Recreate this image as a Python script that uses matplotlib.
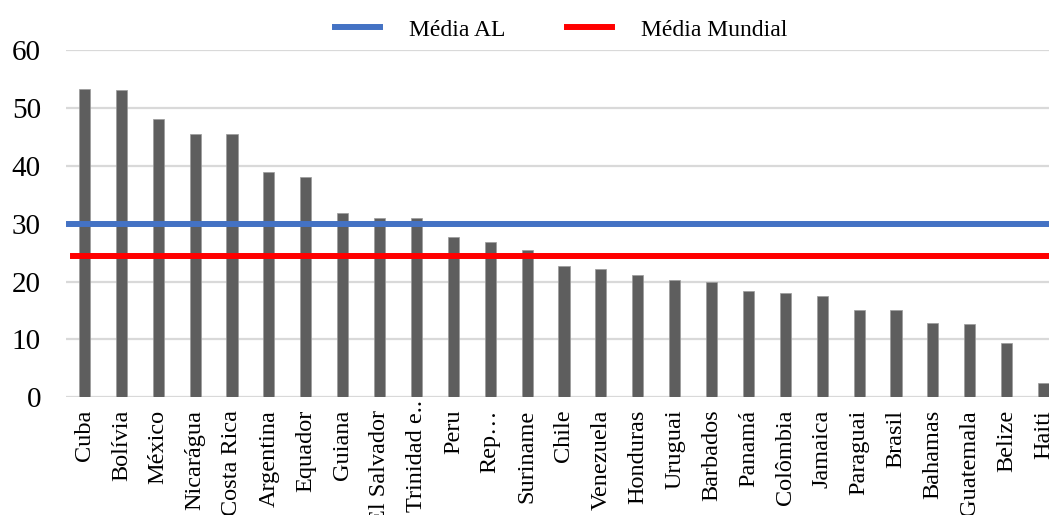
import matplotlib
matplotlib.use("Agg")
import matplotlib.pyplot as plt
import matplotlib.transforms as mtransforms
from matplotlib.lines import Line2D

plt.rcParams['font.family'] = ['Liberation Serif', 'DejaVu Serif']

paises = ["Cuba", "Bolívia", "México", "Nicarágua", "Costa Rica", "Argentina",
          "Equador", "Guiana", "El Salvador", "Trinidad e..", "Peru", "Rep…",
          "Suriname", "Chile", "Venezuela", "Honduras", "Uruguai", "Barbados",
          "Panamá", "Colômbia", "Jamaica", "Paraguai", "Brasil", "Bahamas",
          "Guatemala", "Belize", "Haiti"]
valores = [53.2, 53.0, 48.1, 45.5, 45.5, 38.9, 38.0, 31.9, 30.9, 30.9, 27.7, 26.8,
           25.4, 22.6, 22.2, 21.1, 20.2, 20.0, 18.3, 18.1, 17.5, 15.0, 15.0, 12.8,
           12.7, 9.3, 2.5]
media_al = 30.0
media_mundial = 24.4
yticks = [0, 10, 20, 30, 40, 50, 60]

fig = plt.figure(figsize=(10.49, 5.15), dpi=100)
ax = fig.add_axes([0.0629, 0.2285, 0.9495, 0.6745])

x = list(range(len(paises)))
ax.bar(x, valores, width=0.3, color="#5e5e5e", edgecolor="#9a9a9a",
       linewidth=0.5, zorder=2)

ax.axhline(media_al, xmin=0.003, xmax=1, color="#4472C4", linewidth=4.3, zorder=3)
ax.axhline(media_mundial, xmin=0.007, xmax=1, color="#FF0000", linewidth=4.3, zorder=3)

ax.set_xlim(-0.5, len(paises) - 0.5)
ax.set_ylim(0, 60)
ax.set_yticks(yticks)
ax.set_yticklabels([str(v) for v in yticks], fontsize=21)
ax.set_xticks(x)
ax.set_xticklabels(paises, rotation=90, fontsize=17.5, va="top", ha="center")
ax.tick_params(axis="both", length=0)
ax.tick_params(axis="x", pad=9)
ax.tick_params(axis="y", pad=18)
ax.grid(axis="y", color="#d9d9d9", linewidth=1.6, zorder=0)
ax.set_axisbelow(True)
for s in ax.spines.values():
    s.set_visible(False)

# the truncated label overflows upward toward the axis
for lbl in ax.get_xticklabels():
    if lbl.get_text().startswith("Trinidad"):
        lbl.set_transform(lbl.get_transform() +
                          mtransforms.ScaledTranslation(0, 10 / 100, fig.dpi_scale_trans))

handles = [Line2D([0], [0], color="#4472C4", linewidth=4.3),
           Line2D([0], [0], color="#FF0000", linewidth=4.3)]
fig.legend(handles, ["Média AL", "Média Mundial"], loc="center",
           bbox_to_anchor=(0.535, 0.942), ncol=2, frameon=False, fontsize=17,
           handlelength=1.9, handletextpad=1.25, columnspacing=2.6)

fig.savefig("out.png", dpi=100)
